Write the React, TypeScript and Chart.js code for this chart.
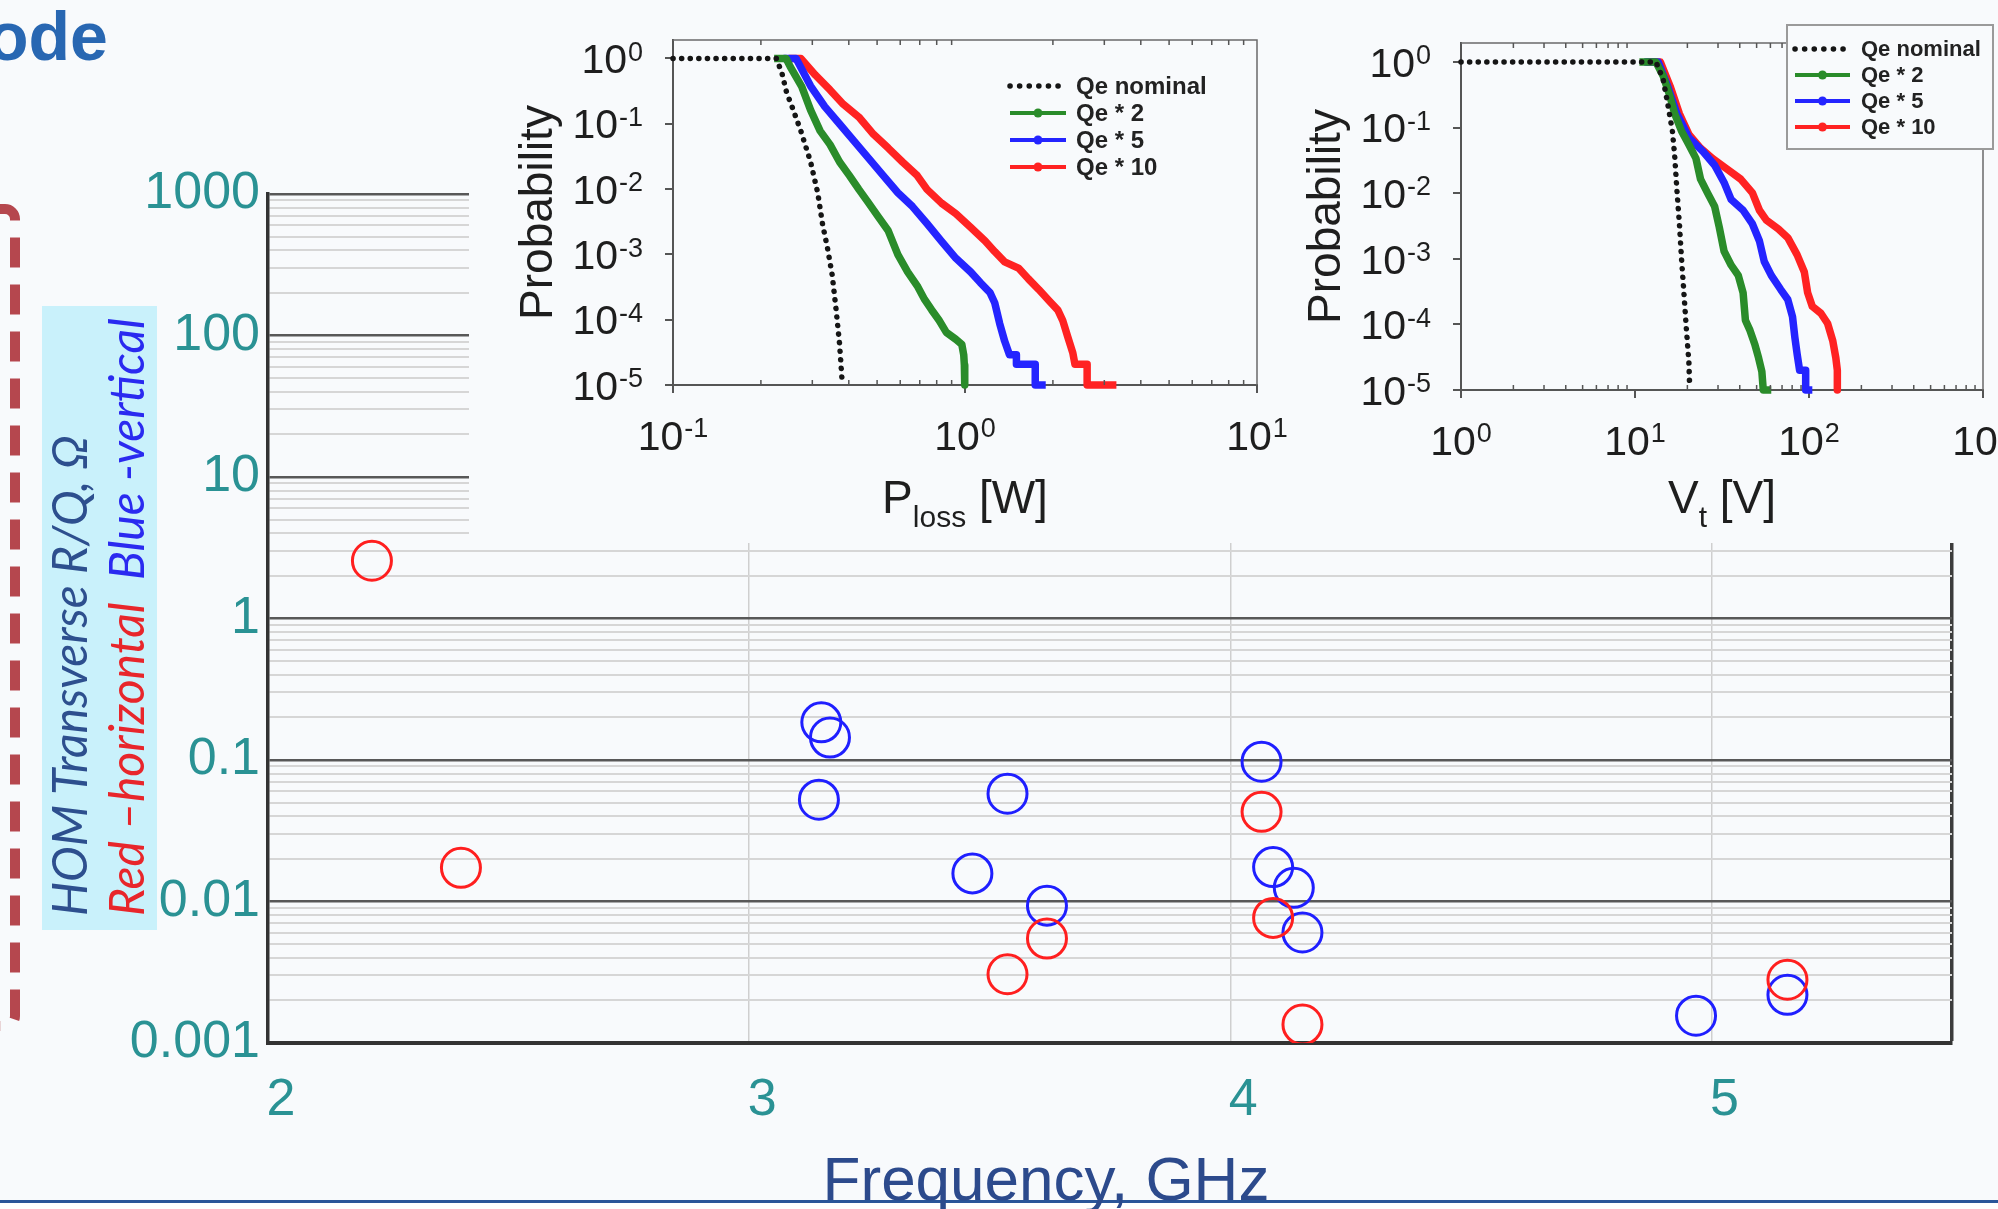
import React, { useEffect, useRef } from 'react';
import { Chart, registerables } from 'chart.js';

Chart.register(...registerables);

const PAGE_BG = '#f8fafc';
const SANS = '"Liberation Sans", Arial, Helvetica, sans-serif';
const TEAL = '#2a9294';

// ---------- main chart: HOM transverse R/Q vs frequency ----------
const freqTicks = [2, 3, 4, 5, 5.5];
const freqTickLabels = ['2', '3', '4', '5', ''];
const rqDecades = [0.001, 0.01, 0.1, 1, 10, 100, 1000];
const rqTickLabels = ['0.001', '0.01', '0.1', '1', '10', '100', '1000'];
const minorMultipliers = [2, 3, 4, 5, 6, 7, 8, 9];

const redFreq = [2.216, 2.401, 3.537, 3.619, 4.065, 4.089, 4.15, 5.158];
const redRQ = [2.56, 0.0173, 0.00306, 0.00547, 0.043, 0.00766, 0.00135, 0.0028];
const blueFreq = [3.15, 3.168, 3.145, 3.537, 3.464, 3.619, 4.065, 4.089, 4.132, 4.15, 4.968, 5.158];
const blueRQ = [0.1845, 0.144, 0.0524, 0.0578, 0.0158, 0.00935, 0.0973, 0.0175, 0.0125, 0.00604, 0.00156, 0.00219];

// ---------- inset series ----------
const seriesLabels = ['Qe nominal', 'Qe * 2', 'Qe * 5', 'Qe * 10'];
const seriesColors = ['#151515', '#2a8c2a', '#2424ff', '#ff2222'];
const probExps = [0, -1, -2, -3, -4, -5];

// P_loss inset
const lossXExps = [-1, 0, 1];
const lossNomX = [0.1, 0.226, 0.236, 0.245, 0.256, 0.274, 0.296, 0.313, 0.325, 0.338, 0.351, 0.362, 0.372, 0.379];
const lossNomP = [1, 1, 0.6, 0.3, 0.18, 0.078, 0.026, 0.0088, 0.00295, 0.00126, 4.8e-4, 1.4e-4, 4.2e-5, 1.24e-5];
const loss2X = [0.222, 0.244, 0.252, 0.276, 0.296, 0.319, 0.345, 0.372, 0.402, 0.433, 0.468, 0.505, 0.546, 0.589, 0.636, 0.686, 0.727, 0.769, 0.815, 0.863, 0.931, 0.975, 0.99, 0.995, 0.998];
const loss2P = [1, 1, 0.75, 0.37, 0.162, 0.078, 0.048, 0.026, 0.0161, 0.0099, 0.0061, 0.00375, 0.0023, 9.9e-4, 5.4e-4, 3.3e-4, 2.04e-4, 1.41e-4, 9.8e-5, 6.4e-5, 5.0e-5, 4.2e-5, 2.9e-5, 2.0e-5, 1e-5];
const loss5X = [0.239, 0.264, 0.296, 0.331, 0.372, 0.417, 0.468, 0.525, 0.589, 0.661, 0.742, 0.83, 0.931, 1.045, 1.128, 1.218, 1.265, 1.315, 1.367, 1.42, 1.5, 1.5, 1.74, 1.74, 1.89];
const loss5P = [1, 1, 0.379, 0.183, 0.0995, 0.0542, 0.0295, 0.0161, 0.0088, 0.0054, 0.00295, 0.0016, 8.7e-4, 5.4e-4, 3.7e-4, 2.6e-4, 1.8e-4, 8.7e-5, 4.7e-5, 2.9e-5, 2.9e-5, 2.07e-5, 2.07e-5, 1e-5, 1e-5];
const loss10X = [0.249, 0.274, 0.307, 0.345, 0.38, 0.433, 0.486, 0.546, 0.611, 0.686, 0.741, 0.831, 0.931, 1.045, 1.172, 1.265, 1.367, 1.53, 1.65, 1.79, 1.93, 2.08, 2.16, 2.25, 2.34, 2.38, 2.62, 2.62, 3.3];
const loss10P = [1, 1, 0.56, 0.33, 0.206, 0.127, 0.069, 0.0425, 0.026, 0.0161, 0.0099, 0.0061, 0.0042, 0.0026, 0.0016, 0.0011, 7.7e-4, 6.1e-4, 4.2e-4, 2.9e-4, 2.0e-4, 1.4e-4, 9.8e-5, 5.4e-5, 3.1e-5, 2.07e-5, 2.07e-5, 1e-5, 1e-5];

// V_t inset
const vtXExps = [0, 1, 2, 3];
const vtNomX = [1, 13.2, 14.5, 15.4, 16.4, 16.9, 17.4, 18.0, 18.5, 19.1, 19.7, 20.4, 20.6];
const vtNomP = [1, 1, 0.547, 0.234, 0.089, 0.038, 0.0115, 0.0034, 0.00102, 3.05e-4, 9.1e-5, 2.7e-5, 1.17e-5];
const vt2X = [10.6, 13.2, 14.5, 15.9, 16.9, 18.5, 20.4, 22.4, 23.8, 26.1, 28.7, 30.5, 32.5, 35.7, 39.2, 41.8, 43.1, 45.8, 48.8, 51.3, 53.6, 54.6, 60.7];
const vt2P = [1, 1, 0.617, 0.299, 0.163, 0.089, 0.055, 0.034, 0.0164, 0.0101, 0.00625, 0.00303, 0.0013, 8.0e-4, 5.6e-4, 3.05e-4, 1.16e-4, 8.1e-5, 5.0e-5, 3.1e-5, 1.9e-5, 1e-5, 1e-5];
const vt5X = [11.3, 13.6, 15.4, 17.4, 20.4, 24.6, 28.7, 32.5, 35.7, 41.8, 47.3, 51.9, 55.3, 60.7, 68.8, 75.5, 80.4, 82.9, 85.5, 88.3, 95.7, 95.7, 104.5];
const vt5P = [1, 1, 0.43, 0.163, 0.07, 0.0433, 0.0267, 0.0146, 0.008, 0.0055, 0.0034, 0.00187, 9.1e-4, 5.6e-4, 3.4e-4, 2.4e-4, 1.31e-4, 6.4e-5, 3.5e-5, 2.0e-5, 2.0e-5, 1e-5, 1e-5];
const vt10X = [11.6, 14.0, 15.9, 18.0, 20.4, 23.8, 27.8, 33.6, 40.5, 47.3, 51.9, 57.0, 66.7, 75.5, 85.5, 94.0, 98.2, 104.5, 117, 128, 137, 142.6, 145.5, 145.5];
const vt10P = [1, 1, 0.43, 0.163, 0.079, 0.0488, 0.034, 0.0236, 0.0164, 0.0101, 0.0055, 0.00386, 0.00285, 0.0021, 0.00115, 6.3e-4, 3.05e-4, 1.88e-4, 1.48e-4, 1.03e-4, 5.6e-5, 3.1e-5, 2.0e-5, 1e-5];

const isDecade = (v: number) => Math.abs(Math.log10(v) - Math.round(Math.log10(v))) < 1e-6;
const pts = (xs: number[], ys: number[]) => xs.map((x, i) => ({ x, y: ys[i] }));

function logTicks(exps: number[], withMinor: boolean) {
  const lo = Math.min(...exps);
  const hi = Math.max(...exps);
  const vals: number[] = [];
  for (let e = lo; e <= hi; e++) {
    vals.push(Math.pow(10, e));
    if (withMinor && e < hi) minorMultipliers.forEach((m) => vals.push(m * Math.pow(10, e)));
  }
  return vals.sort((a, b) => a - b);
}

function drawPow(ctx: CanvasRenderingContext2D, exp: number, x: number, yMid: number, align: 'center' | 'right') {
  const base = '10';
  const sup = String(exp);
  ctx.font = `41px ${SANS}`;
  const wb = ctx.measureText(base).width;
  ctx.font = `27px ${SANS}`;
  const ws = ctx.measureText(sup).width;
  const total = wb + 1 + ws;
  const left = align === 'center' ? x - total / 2 : x - total;
  ctx.textAlign = 'left';
  ctx.textBaseline = 'alphabetic';
  ctx.font = `41px ${SANS}`;
  ctx.fillText(base, left, yMid + 14.7);
  ctx.font = `27px ${SANS}`;
  ctx.fillText(sup, left + wb + 1, yMid + 2.2);
}

type InsetSpec = {
  xExps: number[];
  xMin: number;
  xMax: number;
  yMax: number;
  padding: { left: number; right: number; top: number; bottom: number };
  titleMain: string;
  titleSub: string;
  titleRest: string;
  legendRows: number[];
  legendLine: [number, number];
  legendTextX: number;
  legendFont: number;
  legendBox?: [number, number, number, number];
  series: { x: number[]; p: number[] }[];
};

function makeInset(canvas: HTMLCanvasElement, spec: InsetSpec) {
  const xTickVals = logTicks(spec.xExps, true);
  const yTickVals = logTicks(probExps, false);
  const decor = {
    id: 'insetDecor',
    afterDraw(chart: any) {
      const { ctx, chartArea: a, scales } = chart;
      const x = scales.x;
      const y = scales.y;
      ctx.save();
      // top & right frame
      ctx.strokeStyle = '#6a6a6a';
      ctx.lineWidth = 1.5;
      ctx.beginPath();
      ctx.moveTo(a.left, a.top);
      ctx.lineTo(a.right, a.top);
      ctx.lineTo(a.right, a.bottom);
      ctx.stroke();
      // minor x ticks (inward, bottom and top)
      ctx.strokeStyle = '#555';
      ctx.lineWidth = 1.5;
      xTickVals.forEach((v) => {
        if (isDecade(v)) return;
        const px = x.getPixelForValue(v);
        ctx.beginPath();
        ctx.moveTo(px, a.bottom);
        ctx.lineTo(px, a.bottom - 5);
        ctx.moveTo(px, a.top);
        ctx.lineTo(px, a.top + 5);
        ctx.stroke();
      });
      // tick labels
      ctx.fillStyle = '#1e1e1e';
      spec.xExps.forEach((e) => drawPow(ctx, e, x.getPixelForValue(Math.pow(10, e)), a.bottom + 50, 'center'));
      probExps.forEach((e) => drawPow(ctx, e, a.left - 30, y.getPixelForValue(Math.pow(10, e)), 'right'));
      // y title
      ctx.save();
      ctx.translate(a.left - 134, (a.top + a.bottom) / 2);
      ctx.rotate(-Math.PI / 2);
      ctx.font = `46px ${SANS}`;
      ctx.textAlign = 'center';
      ctx.textBaseline = 'middle';
      ctx.fillText('Probability', 0, 0);
      ctx.restore();
      // x title with subscript
      ctx.textAlign = 'left';
      ctx.textBaseline = 'alphabetic';
      ctx.font = `46px ${SANS}`;
      const w1 = ctx.measureText(spec.titleMain).width;
      const w3 = ctx.measureText(spec.titleRest).width;
      ctx.font = `30px ${SANS}`;
      const w2 = ctx.measureText(spec.titleSub).width;
      const cx = (a.left + a.right) / 2;
      const l0 = cx - (w1 + w2 + w3) / 2;
      ctx.font = `46px ${SANS}`;
      ctx.fillText(spec.titleMain, l0, 513);
      ctx.fillText(spec.titleRest, l0 + w1 + w2, 513);
      ctx.font = `30px ${SANS}`;
      ctx.fillText(spec.titleSub, l0 + w1, 527);
      // legend
      if (spec.legendBox) {
        const [bx0, by0, bx1, by1] = spec.legendBox;
        ctx.fillStyle = PAGE_BG;
        ctx.fillRect(bx0, by0, bx1 - bx0, by1 - by0);
        ctx.strokeStyle = '#9a9a9a';
        ctx.lineWidth = 2;
        ctx.strokeRect(bx0, by0, bx1 - bx0, by1 - by0);
      }
      const [lx0, lx1] = spec.legendLine;
      spec.legendRows.forEach((ry, i) => {
        ctx.strokeStyle = seriesColors[i];
        ctx.fillStyle = seriesColors[i];
        ctx.beginPath();
        if (i === 0) {
          ctx.setLineDash([0.1, 9.5]);
          ctx.lineCap = 'round';
          ctx.lineWidth = 5.5;
        } else {
          ctx.setLineDash([]);
          ctx.lineCap = 'butt';
          ctx.lineWidth = 4;
        }
        ctx.moveTo(lx0, ry);
        ctx.lineTo(lx1, ry);
        ctx.stroke();
        ctx.setLineDash([]);
        if (i > 0) {
          ctx.beginPath();
          ctx.arc((lx0 + lx1) / 2, ry, 4.5, 0, Math.PI * 2);
          ctx.fill();
        }
        ctx.fillStyle = '#222';
        ctx.font = `bold ${spec.legendFont}px ${SANS}`;
        ctx.textBaseline = 'middle';
        ctx.fillText(seriesLabels[i], spec.legendTextX, ry + 1);
      });
      ctx.restore();
    },
  };

  const tickGrid = {
    drawOnChartArea: false,
    drawTicks: true,
    tickLength: 8,
    lineWidth: 2,
    color: (c: any) => (c.tick && isDecade(c.tick.value) ? '#555' : 'rgba(0,0,0,0)'),
  };

  return new Chart(canvas, {
    type: 'scatter',
    data: {
      datasets: spec.series.map((s, i) => ({
        label: seriesLabels[i],
        data: pts(s.x, s.p),
        showLine: true,
        borderColor: seriesColors[i],
        backgroundColor: seriesColors[i],
        borderWidth: i === 0 ? 5.5 : 7.5,
        borderDash: i === 0 ? [0.1, 8.5] : [],
        borderCapStyle: i === 0 ? 'round' : 'butt',
        borderJoinStyle: 'round',
        pointRadius: 0,
        clip: 12,
      })) as any,
    },
    options: {
      responsive: false,
      animation: false,
      events: [],
      layout: { padding: spec.padding },
      plugins: { legend: { display: false }, tooltip: { enabled: false } },
      scales: {
        x: {
          type: 'logarithmic',
          min: spec.xMin,
          max: spec.xMax,
          afterBuildTicks: (s: any) => {
            s.ticks = xTickVals.map((v) => ({ value: v }));
          },
          afterFit: (s: any) => {
            s.height = 8;
          },
          ticks: { display: false, autoSkip: false },
          grid: tickGrid as any,
          border: { display: true, color: '#555', width: 2 },
        },
        y: {
          type: 'logarithmic',
          min: 1e-5,
          max: spec.yMax,
          afterBuildTicks: (s: any) => {
            s.ticks = yTickVals.map((v) => ({ value: v }));
          },
          afterFit: (s: any) => {
            s.width = 8;
          },
          ticks: { display: false, autoSkip: false },
          grid: tickGrid as any,
          border: { display: true, color: '#555', width: 2 },
        },
      },
    },
    plugins: [decor],
  });
}

export default function App() {
  const mainRef = useRef<HTMLCanvasElement>(null);
  const lossRef = useRef<HTMLCanvasElement>(null);
  const vtRef = useRef<HTMLCanvasElement>(null);

  useEffect(() => {
    const rqTickVals = logTicks([-3, 3], true);
    const main = new Chart(mainRef.current!, {
      type: 'scatter',
      data: {
        datasets: [
          {
            label: 'Red – horizontal',
            data: pts(redFreq, redRQ),
            borderColor: '#ff1f1f',
            backgroundColor: 'rgba(0,0,0,0)',
            pointRadius: 19.5,
            pointBorderWidth: 3,
            pointHoverRadius: 19.5,
          },
          {
            label: 'Blue – vertical',
            data: pts(blueFreq, blueRQ),
            borderColor: '#1f1fff',
            backgroundColor: 'rgba(0,0,0,0)',
            pointRadius: 19.5,
            pointBorderWidth: 3,
            pointHoverRadius: 19.5,
          },
        ],
      },
      options: {
        responsive: false,
        animation: false,
        events: [],
        layout: { padding: { top: 194, right: 46, bottom: 0, left: 0 } },
        plugins: { legend: { display: false }, tooltip: { enabled: false } },
        scales: {
          x: {
            type: 'linear',
            min: 2,
            max: 5.5,
            afterBuildTicks: (s: any) => {
              s.ticks = freqTicks.map((v) => ({ value: v }));
            },
            afterFit: (s: any) => {
              s.height = 166;
            },
            ticks: {
              autoSkip: false,
              maxRotation: 0,
              padding: 26,
              labelOffset: 13,
              color: TEAL,
              font: { family: SANS, size: 52 },
              callback: (v: any) => {
                const i = freqTicks.indexOf(Number(v));
                return i >= 0 ? freqTickLabels[i] : '';
              },
            },
            grid: {
              drawTicks: false,
              color: (c: any) => {
                const v = c.tick ? c.tick.value : 0;
                if (v === 2) return 'rgba(0,0,0,0)';
                if (v === 5.5) return '#3c3c3c';
                return '#cfcfcf';
              },
              lineWidth: (c: any) => (c.tick && c.tick.value === 5.5 ? 3.5 : 1.5),
            },
            border: { display: true, color: '#333', width: 4 },
          },
          y: {
            type: 'logarithmic',
            min: 0.001,
            max: 1000,
            afterBuildTicks: (s: any) => {
              s.ticks = rqTickVals.map((v) => ({ value: v }));
            },
            afterFit: (s: any) => {
              s.width = 268;
            },
            ticks: {
              autoSkip: false,
              padding: 8,
              color: TEAL,
              font: { family: SANS, size: 52 },
              callback: (v: any) => {
                const n = Number(v);
                const i = rqDecades.findIndex((d) => Math.abs(d - n) / d < 1e-6);
                return i >= 0 ? rqTickLabels[i] : '';
              },
            },
            grid: {
              drawTicks: false,
              color: (c: any) => (c.tick && isDecade(c.tick.value) ? '#585858' : '#d6d6d6'),
              lineWidth: (c: any) => (c.tick && isDecade(c.tick.value) ? 2.5 : 2),
            },
            border: { display: true, color: '#333', width: 3.5 },
          },
        },
      },
    });

    const loss = makeInset(lossRef.current!, {
      xExps: lossXExps,
      xMin: 0.1,
      xMax: 10,
      yMax: 1.92,
      padding: { left: 195, right: 43, top: 40, bottom: 150 },
      titleMain: 'P',
      titleSub: 'loss',
      titleRest: ' [W]',
      legendRows: [86, 113, 140, 167],
      legendLine: [540, 596],
      legendTextX: 606,
      legendFont: 24,
      series: [
        { x: lossNomX, p: lossNomP },
        { x: loss2X, p: loss2P },
        { x: loss5X, p: loss5P },
        { x: loss10X, p: loss10P },
      ],
    });

    const vt = makeInset(vtRef.current!, {
      xExps: vtXExps,
      xMin: 1,
      xMax: 1000,
      yMax: 1.95,
      padding: { left: 163, right: 15, top: 43, bottom: 145 },
      titleMain: 'V',
      titleSub: 't',
      titleRest: ' [V]',
      legendRows: [49, 75, 101, 127],
      legendLine: [505, 560],
      legendTextX: 571,
      legendFont: 22,
      legendBox: [497, 25, 703, 149],
      series: [
        { x: vtNomX, p: vtNomP },
        { x: vt2X, p: vt2P },
        { x: vt5X, p: vt5P },
        { x: vt10X, p: vt10P },
      ],
    });

    return () => {
      main.destroy();
      loss.destroy();
      vt.destroy();
    };
  }, []);

  const abs = { position: 'absolute' as const };
  const yTitleFont = {
    fontFamily: 'Lato, "Open Sans", sans-serif',
    fontStyle: 'italic' as const,
    fontSize: 48,
    lineHeight: '48px',
    whiteSpace: 'nowrap' as const,
    transform: 'rotate(-90deg)',
    transformOrigin: '0 0',
  };

  return (
    <div style={{ position: 'fixed', left: 0, top: 0, width: 1998, height: 1209, background: PAGE_BG, overflow: 'hidden' }}>
      <canvas ref={mainRef} width={1998} height={1209} style={{ ...abs, left: 0, top: 0 }} />
      <div style={{ ...abs, left: 469, top: 0, width: 1529, height: 543, background: PAGE_BG }} />
      <canvas ref={lossRef} width={830} height={543} style={{ ...abs, left: 470, top: 0 }} />
      <canvas ref={vtRef} width={708} height={543} style={{ ...abs, left: 1290, top: 0 }} />

      <div style={{ ...abs, left: -13, top: 2, fontFamily: SANS, fontWeight: 700, fontSize: 68, lineHeight: 1, color: '#2867b2', whiteSpace: 'nowrap' }}>ode</div>

      <svg style={{ ...abs, left: 0, top: 0 }} width={60} height={1209}>
        <rect x={-300} y={209} width={315} height={817} rx={10} fill="none" stroke="#b5474e" strokeWidth={10} strokeDasharray="30 17" />
      </svg>

      <div style={{ ...abs, left: 42, top: 306, width: 115, height: 624, background: '#c9f1fb' }} />
      <div style={{ ...abs, left: 44.5, top: 916, color: '#2d4f8e', ...yTitleFont }}>HOM Transverse R/Q, Ω</div>
      <div style={{ ...abs, left: 101.5, top: 916, ...yTitleFont }}>
        <span style={{ color: '#e8262b' }}>Red –horizontal</span>
        {'\u00a0\u00a0'}
        <span style={{ color: '#2a2af0' }}>Blue -vertical</span>
      </div>

      <div style={{ ...abs, left: 0, top: 1200, width: 1998, height: 3, background: '#2a5599' }} />
      <div style={{ ...abs, left: 0, top: 1203, width: 1998, height: 6, background: '#ffffff' }} />
      <div
        style={{
          ...abs,
          left: 1046,
          top: 1148,
          transform: 'translateX(-50%)',
          fontFamily: SANS,
          fontSize: 62,
          lineHeight: 1,
          color: '#2c4a8c',
          whiteSpace: 'nowrap',
        }}
      >
        Frequency, GHz
      </div>
    </div>
  );
}
